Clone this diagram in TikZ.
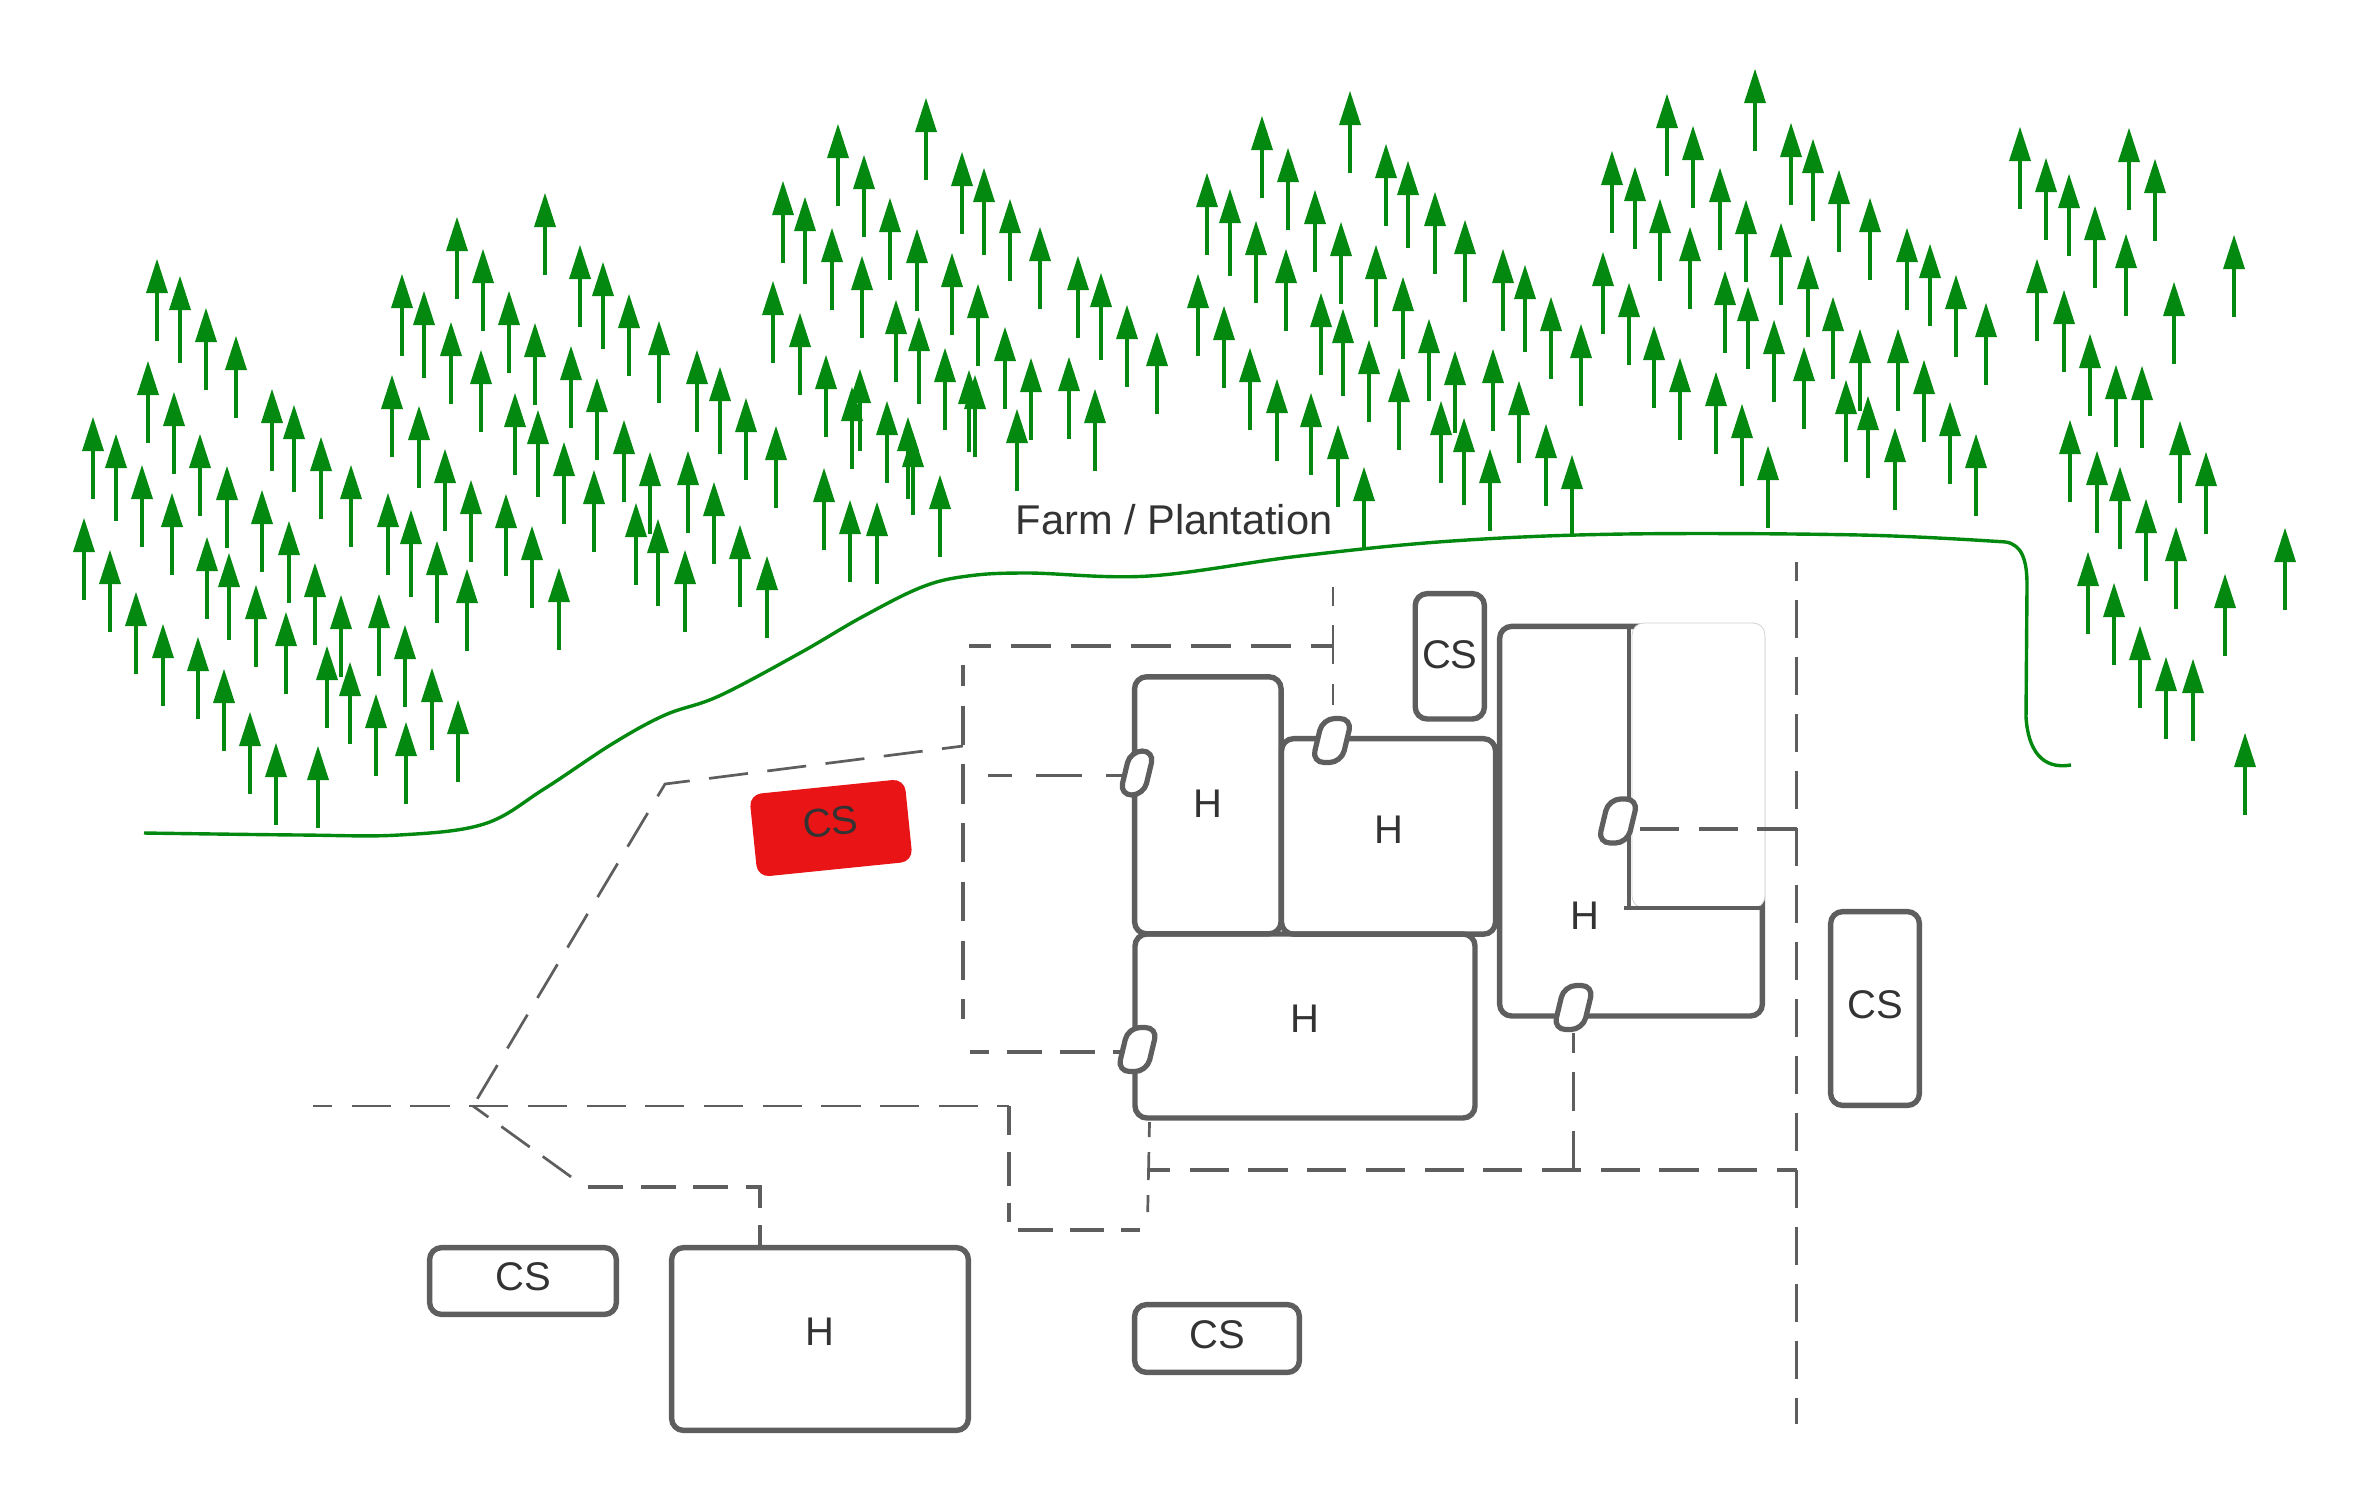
\documentclass[tikz,border=0pt]{standalone}
\usepackage{fontspec}
\setmainfont{Liberation Sans}
\usepackage{xcolor}
\definecolor{treegreen}{HTML}{03890F}
\definecolor{linegray}{HTML}{5E5E5E}
\definecolor{textgray}{HTML}{333333}
\definecolor{redfill}{HTML}{E81416}
\tikzset{
	firtree/.pic={\fill[treegreen] (0,0) -- (11,34) -- (-11,34) -- cycle; \draw[treegreen, line width=1.9pt] (0,33) -- (0,82);},
	talltree/.pic={\fill[treegreen] (0,0) -- (11,34) -- (-11,34) -- cycle; \draw[treegreen, line width=1.9pt] (0,33) -- (0,87);}
}
\begin{document}
\begin{tikzpicture}[x=.5pt, y=-.5pt, font=\fontsize{20}{24}\selectfont, text=textgray,
	house/.style = {draw=linegray, line width=2.7pt, rounded corners=6pt, inner sep=0pt, text depth=7pt},
	shed/.style = {house, text depth=4pt},
	doorway/.style = {draw=linegray, fill=white, line width=2.6pt, rounded corners=6pt, minimum width=14.65pt, minimum height=22pt, inner sep=0pt, xslant=.24, transform shape},
	track/.style = {draw=linegray, line width=1.65pt, dash pattern=on 19.6pt off 9.75pt},
	thintrack/.style = {track, line width=1.35pt},
	edge/.style = {treegreen, line width=1.7pt}]
	\useasboundingbox (0,0) rectangle (2370,1506);
	\foreach \x/\y in {157/259, 206/308, 236/336, 148/361, 174/392, 93/417, 200/434, 142/465, 227/466, 172/493, 84/518, 110/550, 207/537, 136/592, 256/585, 163/624, 286/612, 198/637, 224/669, 250/712, 276/743, 318/746, 272/389, 321/437, 351/465, 262/490, 289/521, 315/563, 341/595, 379/594, 405/625, 327/646, 350/662, 376/694, 432/668, 458/700, 406/722, 402/274, 457/217, 483/249, 545/193, 580/245, 629/294, 659/321, 451/322, 509/291, 535/323, 481/350, 571/346, 597/378, 392/375, 419/406, 515/393, 445/449, 564/442, 471/480, 594/470, 388/493, 437/541, 467/569, 506/494, 532/526, 559/568, 697/350, 746/398, 776/426, 624/420, 650/452, 688/451, 714/482, 636/503, 685/550, 740/525, 767/556}
		\pic at (\x,\y) {firtree};
	\foreach \x/\y in {180/276, 116/434, 229/553, 294/405, 424/291, 603/262, 538/410, 411/510, 720/367, 658/519}
		\pic at (\x,\y) {talltree};
	\foreach \x/\y in {838/124, 926/98, 864/155, 783/181, 962/152, 890/198, 832/228, 917/229, 1010/199, 1040/227, 952/253, 862/256, 1078/256, 773/281, 978/284, 800/313, 896/300, 1127/305, 1157/332, 1005/327, 826/355, 945/348, 1031/358, 1069/357, 860/369, 852/387, 969/370, 975/375, 887/401, 1095/389, 1017/409, 908/417, 913/433, 824/468, 850/500, 877/502, 940/475}
		\pic at (\x,\y) {firtree};
	\foreach \x/\y in {805/197, 984/168, 1101/273, 919/317}
		\pic at (\x,\y) {talltree};
	\foreach \x/\y in {1350/91, 1262/116, 1288/148, 1207/173, 1386/144, 1315/190, 1256/221, 1341/222, 1435/192, 1465/220, 1376/245, 1286/249, 1503/249, 1198/274, 1403/277, 1224/306, 1321/293, 1551/297, 1581/324, 1429/319, 1250/348, 1369/340, 1455/351, 1493/349, 1277/379, 1311/393, 1399/368, 1441/401, 1519/381, 1546/424, 1490/449, 1572/455, 1338/425, 1364/467}
		\pic at (\x,\y) {firtree};
	\foreach \x/\y in {1230/189, 1408/161, 1525/265, 1343/309, 1464/418}
		\pic at (\x,\y) {talltree};
	\foreach \x/\y in {1755/69, 1667/94, 1693/126, 1612/151, 1635/167, 1720/168, 1660/199, 1746/200, 1791/123, 1813/139, 1839/170, 1870/198, 1907/228, 1930/244, 1956/275, 1986/303, 1690/227, 1781/223, 1808/255, 1603/252, 1629/283, 1725/271, 1748/287, 1654/326, 1833/297, 1774/320, 1860/329, 1898/329, 1680/358, 1804/347, 1924/360, 1716/372, 1846/380, 1950/402, 1868/396, 1742/404, 1895/428, 1976/434, 1768/446}
		\pic at (\x,\y) {firtree};
	\foreach \x/\y in {2020/127, 2129/128, 2046/158, 2069/174, 2155/159, 2095/206, 2126/234, 2234/235, 2037/259, 2174/282, 2064/290, 2090/334, 2116/365, 2142/366, 2070/420, 2180/421, 2206/452, 2097/451, 2120/467, 2146/499, 2176/527, 2285/528, 2088/552, 2114/583, 2225/574, 2140/626, 2166/657, 2193/659, 2245/733}
		\pic at (\x,\y) {firtree};
	\draw[edge] plot[smooth, tension=.6] coordinates {(144,833) (300,835) (399,835) (484,824) (544,789) (612,744) (665,715) (719,696) (800,653) (862,617) (922,587) (968,576) (1028,573) (1149,576) (1300,556) (1452,541) (1625,534) (1860,535) (2006,542)};
	\draw[edge] (2006,542) .. controls (2022,545) and (2027,560) .. (2027,585) -- (2026,717) .. controls (2028,750) and (2042,770) .. (2071,765);
	\node[font=\fontsize{20.8}{24}\selectfont] (farm) at (1174,520) {Farm / Plantation};
	\node[house, minimum width=131.4pt, minimum height=194.8pt] (h4) at (1631,821.2) {};
	\draw[draw=black!18, fill=white, line width=.4pt, rounded corners=6pt] (1632,623) rectangle (1765,908);
	\draw[linegray, line width=1.8pt] (1629,627) -- (1629,908);
	\draw[linegray, line width=1.8pt] (1624,908) -- (1765,908);
	\node (h4text) at (1585,916) {H};
	\node[house, text depth=2pt, minimum width=73.25pt, minimum height=128.5pt] (h1) at (1207.8,805.3) {H};
	\node[house, minimum width=107pt, minimum height=97.75pt] (h2) at (1388.5,836.4) {H};
	\node[house, minimum width=170pt, minimum height=92pt] (h3) at (1305,1026) {H};
	\node[house, minimum width=148.4pt, minimum height=91.4pt] (h5) at (820,1339) {H};
	\node[shed, text depth=2pt, minimum width=34.6pt, minimum height=62.7pt] (cs1) at (1449.8,656.3) {CS};
	\node[shed, minimum width=44.4pt, minimum height=96.9pt] (cs2) at (1875,1008.5) {CS};
	\node[shed, minimum width=93.4pt, minimum height=33.4pt] (cs3) at (523,1281) {CS};
	\node[shed, minimum width=82.4pt, minimum height=33.9pt] (cs4) at (1217,1338.5) {CS};
	\node[fill=redfill, rounded corners=6pt, rotate=5.8, minimum width=78pt, minimum height=41.5pt, inner sep=0pt, text depth=6pt] (cs5) at (831,828) {CS};
	\node[doorway, minimum width=12pt] (door1) at (1137,773) {};
	\node[doorway] (door2) at (1332,740.5) {};
	\node[doorway] (door3) at (1618,821) {};
	\node[doorway] (door4) at (1573.5,1007.5) {};
	\node[doorway] (door5) at (1137.5,1049.5) {};
	\coordinate (fork) at (473,1106);
	\coordinate (roadend) at (313,1106);
	\coordinate (lane1) at (1009,1106);
	\coordinate (lane2) at (1009,1222);
	\coordinate (lane3) at (1018,1230);
	\coordinate (lane4) at (1140,1230);
	\coordinate (yardn) at (1149.5,1122);
	\coordinate (yards) at (1147.7,1212);
	\coordinate (yardw) at (1150,1170);
	\coordinate (yarde) at (1796.5,1170);
	\coordinate (fencen) at (1796.5,562);
	\coordinate (fences) at (1796.5,1424);
	\coordinate (fence3) at (1796.5,829);
	\coordinate (door4s) at (1573,1033);
	\coordinate (loopne) at (1333,646);
	\coordinate (loopnw) at (969,646);
	\coordinate (loopw1) at (963,665);
	\coordinate (loopw2) at (963,1018.7);
	\coordinate (loopsw) at (970,1052);
	\coordinate (loopn) at (1333,587);
	\coordinate (stub2) at (1333,705);
	\coordinate (stub1) at (988,775.7);
	\coordinate (path1) at (963,746);
	\coordinate (path2) at (665,784);
	\coordinate (path3) at (574,1179);
	\coordinate (path4) at (588,1187);
	\coordinate (path5) at (760,1187);
	\draw[thintrack, dash phase=10pt] (roadend) -- (lane1);
	\draw[track, dash pattern=on 17pt off 8.5pt, dash phase=2.5pt] (lane1) -- (lane2);
	\draw[track, dash pattern=on 17.25pt off 8.5pt] (lane3) -- (lane4);
	\draw[thintrack, dash pattern=on 14pt off 7.5pt, dash phase=6.5pt] (yardn) -- (yards);
	\draw[track, dash phase=9.5pt] (yardw) -- (yarde);
	\draw[track, dash pattern=on 18.75pt off 9.75pt, dash phase=9.5pt] (fencen) -- (fences);
	\draw[thintrack] (door4 |- yarde) -- (door4 |- door4s);
	\draw[track] (fence3) -- (door3.east |- fence3);
	\draw[track, dash pattern=on 23pt off 12pt, dash phase=11pt] (stub1) -- (door1.west |- stub1);
	\draw[track, dash pattern=on 20pt off 10pt, dash phase=9pt] (loopne) -- (loopnw);
	\draw[track, dash phase=9pt] (loopw1) -- (loopw2);
	\draw[track, dash pattern=on 17.75pt off 8.75pt, dash phase=8.25pt] (loopsw) -- (door5.west |- loopsw);
	\draw[thintrack, dash phase=9pt] (stub2) -- (loopn);
	\draw[thintrack, dash phase=9pt] (path1) -- (path2) -- (fork);
	\draw[thintrack, dash pattern=on 17.5pt off 8pt, dash phase=8pt] (fork) -- (path3);
	\draw[track, dash pattern=on 17.5pt off 8.75pt] (path4) -- (path5) -- (path5 |- h5.north);
\end{tikzpicture}
\end{document}
